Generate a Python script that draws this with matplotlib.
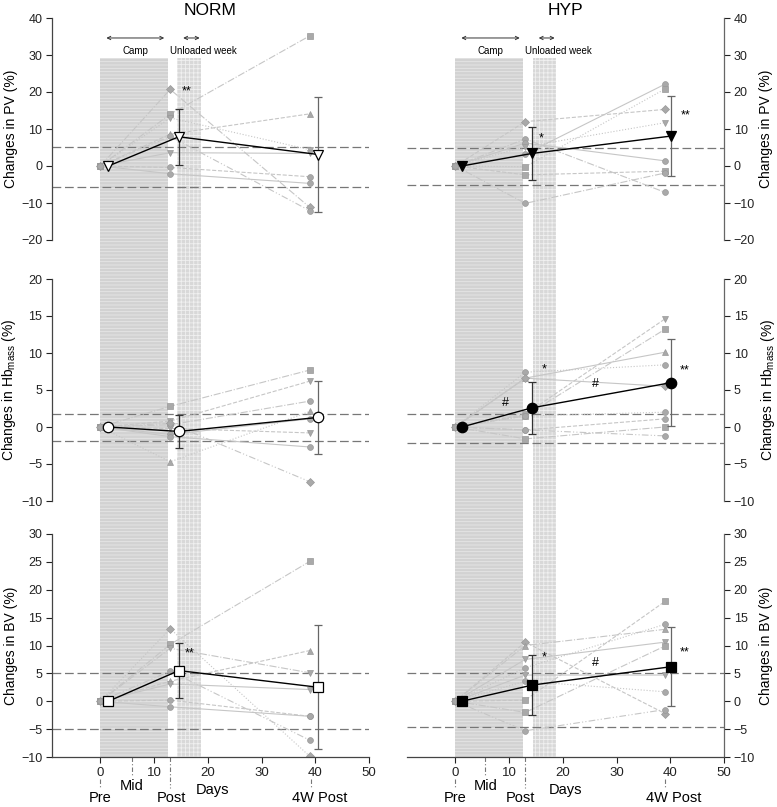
import matplotlib
matplotlib.use("Agg")
import matplotlib.pyplot as plt
from matplotlib.patches import Rectangle
from matplotlib.lines import Line2D
from matplotlib.transforms import blended_transform_factory

plt.rcParams["font.family"] = ["Liberation Sans", "DejaVu Sans"]
plt.rcParams["mathtext.default"] = "regular"
plt.rcParams["hatch.linewidth"] = 0.6

# ---- data -------------------------------------------------------------------
day_ind = [0, 13, 39]
day_mean_norm = [1.5, 14.6, 40.6]
day_mean_hyp = [1.2, 14.3, 40.2]

# NORM, PV
norm_pv_post = [14.0, 8.6, 20.7, 13.0, 3.6, -0.4, -2.1, 8.0]
norm_pv_4w = [35.2, 14.1, -11.2, 4.4, 3.4, -2.9, -4.7, -12.1]
norm_pv_mean = [0, 7.9, 3.1]
norm_pv_sd = [0, 7.6, 15.6]
norm_pv_ref = [5.2, -5.8]
# HYP, PV
hyp_pv_post = [12.0, 7.3, 6.2, 5.2, 3.2, -0.2, -2.4, -10.1]
hyp_pv_4w = [15.3, -7.1, 1.4, 11.7, 22.1, 20.8, -1.4, -1.9]
hyp_pv_mean = [0, 3.4, 8.1]
hyp_pv_sd = [0, 7.1, 10.7]
hyp_pv_ref = [5.0, -5.0]
# NORM, Hb mass
norm_hb_post = [2.8, 0.8, 0.3, -4.7, -1.0, -0.2, -1.3, 0.5]
norm_hb_4w = [7.7, 6.2, 3.5, 2.1, 1.1, -0.8, -2.7, -7.4]
norm_hb_mean = [0, -0.6, 1.3]
norm_hb_sd = [0, 2.2, 4.9]
norm_hb_ref = [1.7, -1.9]
# HYP, Hb mass
hyp_hb_post = [1.7, 1.5, 6.6, 7.4, 6.6, 1.5, -0.4, -1.6, -0.4]
hyp_hb_4w = [14.6, 13.2, 10.1, 8.4, 5.5, 2.0, 1.1, 0.0, -1.2]
hyp_hb_mean = [0, 2.6, 6.0]
hyp_hb_sd = [0, 3.5, 5.9]
hyp_hb_ref = [1.7, -2.1]
# NORM, BV
norm_bv_post = [10.2, 3.6, 9.5, 13.0, 3.1, 0.2, -1.0, 5.4]
norm_bv_4w = [25.1, 9.1, 5.1, -9.9, 2.1, -2.7, -2.7, -7.0]
norm_bv_mean = [0, 5.5, 2.5]
norm_bv_sd = [0, 5.0, 11.1]
norm_bv_ref = [5.1, -4.9]
# HYP, BV
hyp_bv_post = [10.6, 10.0, 7.5, 6.0, 4.7, 3.6, 0.2, -2.0, -5.3]
hyp_bv_4w = [-2.2, 12.9, 10.6, 13.8, 4.7, 1.7, 17.9, 9.9, -1.5]
hyp_bv_mean = [0, 2.9, 6.2]
hyp_bv_sd = [0, 5.4, 7.1]
hyp_bv_ref = [5.1, -4.7]

# significance marks: (text, day, value)
norm_pv_sig = [("**", 16.1, 20.1)]
hyp_pv_sig = [("*", 15.9, 7.5), ("**", 42.8, 13.8)]
norm_hb_sig = []
hyp_hb_sig = [("#", 9.3, 3.2), ("*", 16.6, 7.8), ("#", 26.0, 5.8), ("**", 42.6, 7.7)]
norm_bv_sig = [("**", 16.7, 8.6)]
hyp_bv_sig = [("*", 16.6, 7.9), ("#", 26.0, 6.8), ("**", 42.6, 8.7)]

# periods (days)
camp_norm, unload_norm = (0, 12.5), (14.3, 18.8)
camp_hyp, unload_hyp = (0, 12.6), (14.4, 18.8)

# ---- styles -----------------------------------------------------------------
mk_norm_pv = ["s", "^", "D", "v", "v", "o", "o", "o"]
mk_hyp_pv = ["D", "o", "o", "v", "o", "s", "s", "o"]
mk_norm_hb = ["s", "v", "o", "^", "o", "v", "o", "D"]
mk_hyp_hb = ["v", "s", "^", "o", "D", "o", "o", "s", "o"]
mk_norm_bv = ["s", "^", "v", "D", "v", "o", "o", "o"]
mk_hyp_bv = ["D", "^", "v", "o", "v", "o", "s", "s", "o"]
DDOT = (0, (6, 2, 1, 2, 1, 2))
ls_norm = ["-.", "--", "-.", ":", "-", "--", "-", DDOT]
ls_hyp = ["--", "-.", "-", ":", "-", ":", "--", "-.", DDOT]

W, H = 777, 807
fig = plt.figure(figsize=(W / 100, H / 100), dpi=100)


def frac(x0, y0, x1, y1):
    return [x0 / W, 1 - y1 / H, (x1 - x0) / W, (y1 - y0) / H]


rows_px = [(18, 240), (279, 501), (534, 757)]
ylims = [(-20, 40), (-10, 20), (-10, 30)]
yticks = [range(-20, 41, 10), range(-10, 21, 5), range(-10, 31, 5)]
ylabels = ["Changes in PV (%)", "Changes in Hb$_{mass}$ (%)", "Changes in BV (%)"]

panels = [
    [(norm_pv_post, norm_pv_4w, norm_pv_mean, norm_pv_sd, norm_pv_ref, norm_pv_sig, mk_norm_pv, "v"),
     (hyp_pv_post, hyp_pv_4w, hyp_pv_mean, hyp_pv_sd, hyp_pv_ref, hyp_pv_sig, mk_hyp_pv, "v")],
    [(norm_hb_post, norm_hb_4w, norm_hb_mean, norm_hb_sd, norm_hb_ref, norm_hb_sig, mk_norm_hb, "o"),
     (hyp_hb_post, hyp_hb_4w, hyp_hb_mean, hyp_hb_sd, hyp_hb_ref, hyp_hb_sig, mk_hyp_hb, "o")],
    [(norm_bv_post, norm_bv_4w, norm_bv_mean, norm_bv_sd, norm_bv_ref, norm_bv_sig, mk_norm_bv, "s"),
     (hyp_bv_post, hyp_bv_4w, hyp_bv_mean, hyp_bv_sd, hyp_bv_ref, hyp_bv_sig, mk_hyp_bv, "s")],
]

cols_px = [(52, 369), (407, 724)]
axes = [[None, None] for _ in range(3)]

for r in range(3):
    for c in range(2):
        x0, x1 = cols_px[c]
        y0, y1 = rows_px[r]
        ax = fig.add_axes(frac(x0, y0, x1, y1))
        axes[r][c] = ax
        ax.patch.set_visible(False)
        ax.set_xlim(-9, 50)
        ax.set_ylim(*ylims[r])
        ax.set_yticks(list(yticks[r]))
        for s in ("top", "right", "left", "bottom"):
            ax.spines[s].set_visible(False)
        side = "left" if c == 0 else "right"
        ax.spines[side].set_visible(True)
        ax.spines[side].set_color("#444444" if c == 0 else "#666666")
        ax.spines[side].set_linewidth(0.9)
        ax.yaxis.set_ticks_position(side)
        ax.yaxis.set_label_position(side)
        ax.tick_params(axis="y", direction="out", length=4, width=0.8,
                       labelsize=9, colors="#222222", pad=3)
        ax.set_ylabel(ylabels[r], fontsize=10, labelpad=2 if c == 0 else 3)
        if r == 2:
            ax.spines["bottom"].set_visible(True)
            ax.spines["bottom"].set_color("#444444")
            ax.spines["bottom"].set_linewidth(0.9)
            ax.set_xticks(range(0, 51, 10))
            ax.tick_params(axis="x", direction="out", length=4, width=0.8,
                           labelsize=9.5, colors="#222222", pad=3)
        else:
            ax.set_xticks([])

        post, w4, mean, sd, ref, sig, mks, mmk = panels[r][c]
        lss = ls_norm if c == 0 else ls_hyp
        mday = day_mean_norm if c == 0 else day_mean_hyp
        for v in ref:
            ax.axhline(v, color="#777777", ls=(0, (7, 3)), lw=0.9, zorder=1)
        for i in range(len(post)):
            ax.plot(day_ind, [0, post[i], w4[i]], color="#c6c6c6", lw=0.8,
                    ls=lss[i % len(lss)], marker=mks[i], ms=4.2,
                    mfc="#a9a9a9", mec="#999999", mew=0.5, zorder=2)
        ax.errorbar([mday[1]], [mean[1]], yerr=[sd[1]], fmt="none", ecolor="#333333",
                    elinewidth=0.9, capsize=3, capthick=0.9, zorder=3)
        ax.errorbar([mday[2]], [mean[2]], yerr=[sd[2]], fmt="none", ecolor="#666666",
                    elinewidth=0.9, capsize=3, capthick=0.9, zorder=3)
        ax.plot(mday, mean, color="black", lw=1.0, marker=mmk, ms=7.5,
                mfc="white" if c == 0 else "black", mec="black", mew=0.9, zorder=4)
        for t, x, y in sig:
            ax.text(x, y, t, fontsize=9, ha="center", va="center", zorder=5)

# ---- shaded periods (span all three rows) ----------------------------------
for c, (camp, unload) in enumerate([(camp_norm, unload_norm), (camp_hyp, unload_hyp)]):
    tr = blended_transform_factory(axes[2][c].transData, fig.transFigure)
    ytop, ybot = 1 - 58 / H, 1 - 757 / H
    fig.add_artist(Rectangle((camp[0], ybot), camp[1] - camp[0], ytop - ybot, transform=tr,
                             facecolor="#d2d2d2", edgecolor="#e6e6e6", hatch="-----",
                             lw=0, zorder=-1))
    fig.add_artist(Rectangle((unload[0], ybot), unload[1] - unload[0], ytop - ybot, transform=tr,
                             facecolor="#d8d8d8", edgecolor="#f0f0f0", hatch="++++",
                             lw=0, zorder=-1))
    ax = axes[0][c]
    ya, yt = 34.6, 31.1
    ax.annotate("", xy=(camp[1] - 0.1, ya), xytext=(camp[0] + 0.6, ya),
                arrowprops=dict(arrowstyle="<->", lw=0.7, color="#333333", mutation_scale=6))
    ax.annotate("", xy=(unload[1] + 0.2, ya), xytext=(unload[0] + 0.6, ya),
                arrowprops=dict(arrowstyle="<->", lw=0.7, color="#333333", mutation_scale=6))
    ax.text((camp[0] + camp[1]) / 2 + 0.3, yt, "Camp", fontsize=7, ha="center", va="center")
    ax.text(19.1, yt, "Unloaded week", fontsize=7, ha="center", va="center")

axes[0][0].set_title("NORM", fontsize=12.5, pad=1)
axes[0][1].set_title("HYP", fontsize=12.5, pad=1)

# ---- time-point labels under the x axes ------------------------------------
pt_labels = ["Pre", "Mid", "Post", "Days", "4W Post"]
pt_x_norm = [0, 5.9, 13.3, 20.8, 40.9]
pt_x_hyp = [0, 5.7, 12.1, 20.5, 40.6]
pt_y = [-0.186, -0.128, -0.186, -0.150, -0.186]
guide_x_norm = [0, 5.8, 13.0, 39.2]
guide_x_hyp = [0, 5.6, 12.9, 39.1]
guide_y = [(-0.100, -0.145), (0.0, -0.085), (0.0, -0.140), (-0.100, -0.145)]

for c, (lx, gx) in enumerate([(pt_x_norm, guide_x_norm), (pt_x_hyp, guide_x_hyp)]):
    ax = axes[2][c]
    tr = blended_transform_factory(ax.transData, ax.transAxes)
    for t, x, y in zip(pt_labels, lx, pt_y):
        ax.text(x, y, t, transform=tr, fontsize=10.5, ha="center", va="center")
    for x, (ya, yb) in zip(gx, guide_y):
        ax.add_line(Line2D([x, x], [ya, yb], transform=tr, color="#777777", lw=0.8,
                           ls=(0, (4, 2, 1, 2)), clip_on=False))

fig.savefig("out.png", dpi=100)
